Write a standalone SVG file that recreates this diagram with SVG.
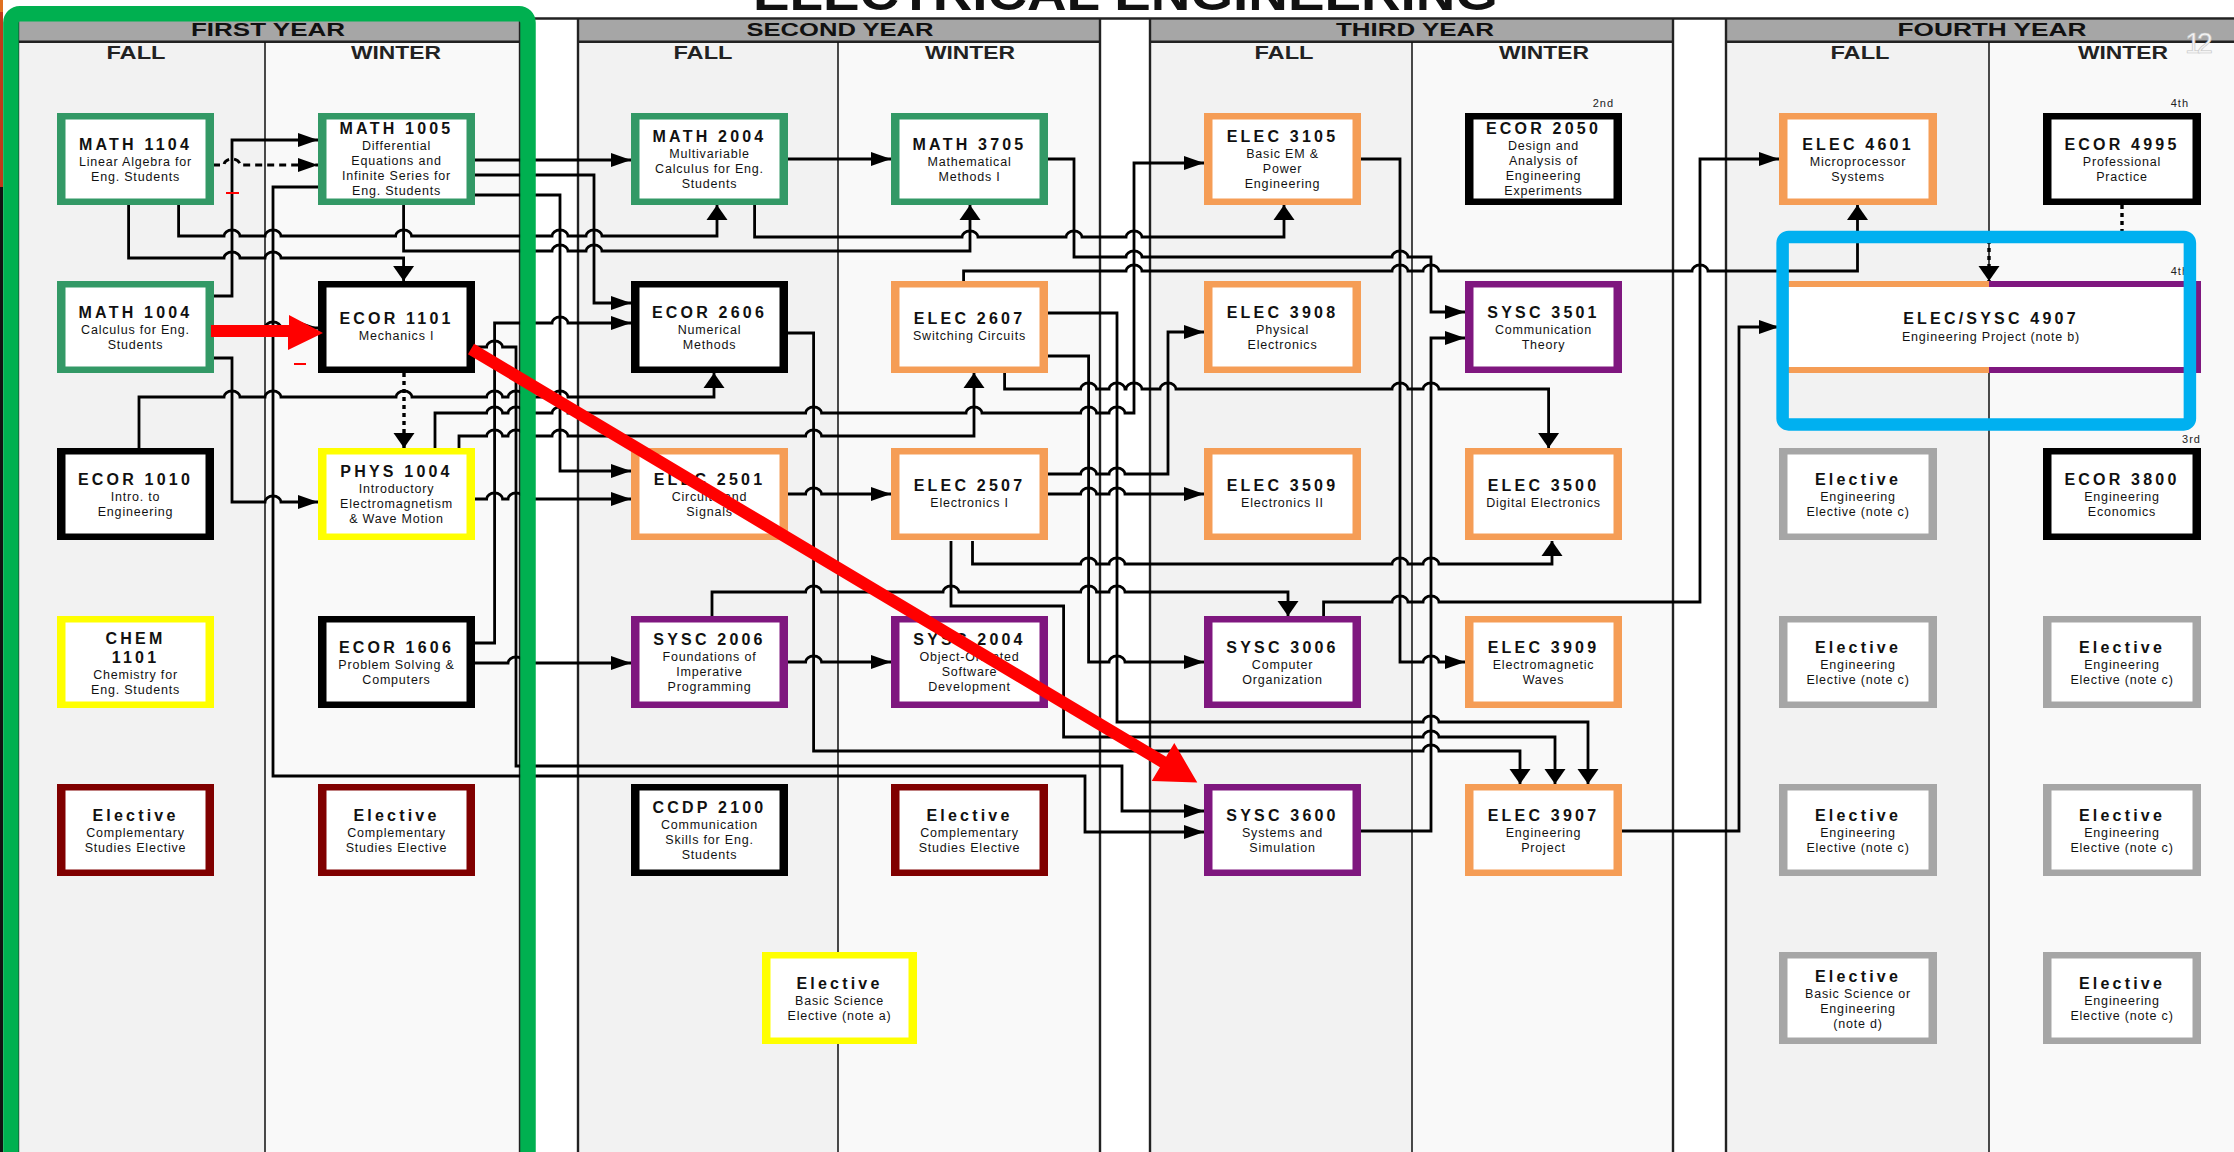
<svg xmlns="http://www.w3.org/2000/svg" width="2234" height="1152" viewBox="0 0 2234 1152">
<defs>
<style>
.fall{fill:#f2f2f2}
.win{fill:#f9f9f9}
.hdr{fill:#a6a6a6}
.edge{stroke:#222;stroke-width:2.4;fill:none}
.div{stroke:#111;stroke-width:1.5;fill:none}
.yt{font-family:"Liberation Sans",Arial,sans-serif;font-weight:bold;font-size:18.5px;fill:#111;text-anchor:middle}
.st{font-family:"Liberation Sans",Arial,sans-serif;font-weight:bold;font-size:17.5px;fill:#222;text-anchor:middle}
.g{fill:#339966}.o{fill:#f59d56}.p{fill:#7f177f}.y{fill:#ffff00}.r{fill:#800000}.k{fill:#000}.e{fill:#a6a6a6}
.in{fill:#fff}
.t{font-family:"Liberation Sans",Arial,sans-serif;font-weight:bold;font-size:16px;letter-spacing:3.2px;text-anchor:middle;fill:#111}
.s{font-family:"Liberation Sans",Arial,sans-serif;font-size:12.5px;letter-spacing:0.8px;text-anchor:middle;fill:#111}
.n{font-family:"Liberation Sans",Arial,sans-serif;font-size:11px;letter-spacing:1px;text-anchor:end;fill:#222}
.w{stroke:#000;stroke-width:2.8;fill:none}
.ar{marker-end:url(#ar)}
.au{marker-end:url(#au)}
.ad{marker-end:url(#ad)}
.dash{stroke-dasharray:7 5}
.dot{stroke-dasharray:4 4;stroke-width:3.4}
.red{fill:#ff0000}
</style>
<marker id="ar" markerUnits="userSpaceOnUse" markerWidth="20" markerHeight="14" refX="20" refY="7" overflow="visible"><path d="M0 0L20 7L0 14z"/></marker>
<marker id="au" markerUnits="userSpaceOnUse" markerWidth="21" markerHeight="15" refX="10.5" refY="0" overflow="visible"><path d="M0 15L10.5 0L21 15z"/></marker>
<marker id="ad" markerUnits="userSpaceOnUse" markerWidth="21" markerHeight="15" refX="10.5" refY="15" overflow="visible"><path d="M0 0L21 0L10.5 15z"/></marker>
</defs>

<rect x="0" y="0" width="2234" height="1152" fill="#fff"/>
<!-- slide edge strip -->
<rect x="0" y="0" width="3" height="1152" fill="#111"/>
<rect x="0" y="0" width="3" height="12" fill="#e07020"/>
<rect x="0" y="12" width="3" height="175" fill="#c0391a"/>

<!-- page title, mostly cut off at the top edge -->
<text x="1125.5" y="10" font-family="'Liberation Sans',Arial,sans-serif" font-weight="bold" font-size="48" text-anchor="middle" textLength="745" lengthAdjust="spacingAndGlyphs" fill="#111">ELECTRICAL ENGINEERING</text>

<!-- year blocks -->
<g id="years">
<rect class="fall" x="18" y="42" width="247" height="1110"/>
<rect class="win" x="265" y="42" width="255" height="1110"/>
<rect class="fall" x="578" y="42" width="260" height="1110"/>
<rect class="win" x="838" y="42" width="262" height="1110"/>
<rect class="fall" x="1150" y="42" width="262" height="1110"/>
<rect class="win" x="1412" y="42" width="261" height="1110"/>
<rect class="fall" x="1726" y="42" width="263" height="1110"/>
<rect class="win" x="1989" y="42" width="245" height="1110"/>
<rect class="hdr" x="18" y="19.5" width="502" height="22"/>
<rect class="hdr" x="578" y="19.5" width="522" height="22"/>
<rect class="hdr" x="1150" y="19.5" width="523" height="22"/>
<rect class="hdr" x="1726" y="19.5" width="508" height="22"/>
<path class="edge" d="M18 18.5H2234M18 41.8H520M578 41.8H1100M1150 41.8H1673M1726 41.8H2234"/>
<path class="edge" d="M18 18.5V1152M520 18.5V1152M578 18.5V1152M1100 18.5V1152M1150 18.5V1152M1673 18.5V1152M1726 18.5V1152"/>
<path class="div" d="M265 42V1152M838 42V1152M1412 42V1152M1989 42V1152"/>
<text class="yt" x="268" y="36" textLength="154" lengthAdjust="spacingAndGlyphs">FIRST YEAR</text>
<text class="yt" x="840" y="36" textLength="187" lengthAdjust="spacingAndGlyphs">SECOND YEAR</text>
<text class="yt" x="1415" y="36" textLength="158" lengthAdjust="spacingAndGlyphs">THIRD YEAR</text>
<text class="yt" x="1992" y="36" textLength="189" lengthAdjust="spacingAndGlyphs">FOURTH YEAR</text>
<text class="st" x="136" y="59" textLength="59" lengthAdjust="spacingAndGlyphs">FALL</text>
<text class="st" x="396" y="59" textLength="90" lengthAdjust="spacingAndGlyphs">WINTER</text>
<text class="st" x="703" y="59" textLength="59" lengthAdjust="spacingAndGlyphs">FALL</text>
<text class="st" x="970" y="59" textLength="90" lengthAdjust="spacingAndGlyphs">WINTER</text>
<text class="st" x="1284" y="59" textLength="59" lengthAdjust="spacingAndGlyphs">FALL</text>
<text class="st" x="1544" y="59" textLength="90" lengthAdjust="spacingAndGlyphs">WINTER</text>
<text class="st" x="1860" y="59" textLength="59" lengthAdjust="spacingAndGlyphs">FALL</text>
<text class="st" x="2123" y="59" textLength="90" lengthAdjust="spacingAndGlyphs">WINTER</text>
</g>

<!-- prerequisite connectors -->
<g id="connectors">
<path class="w au" d="M178.6 205V236H224a8 6 0 0 1 16 0H265a8 6 0 0 1 16 0H395.6a8 6 0 0 1 16 0H552a8 6 0 0 1 16 0H586a8 6 0 0 1 16 0H717V205"/>
<path class="w ad" d="M128.6 205V258H224a8 6 0 0 1 16 0H265a8 6 0 0 1 16 0H403.6V281"/>
<path class="w au" d="M403.6 205V251H552a8 6 0 0 1 16 0H586a8 6 0 0 1 16 0H970V205"/>
<path class="w ar" d="M213 296H232V140H318"/>
<path class="w ar dash" d="M213 165H224a8 6 0 0 1 16 0H318"/>
<path class="w ar" d="M213 328H265a8 6 0 0 1 16 0H318"/>
<path class="w ar" d="M213 358H232V502H265a8 6 0 0 1 16 0H318"/>
<path class="w ad dot" d="M404 373V448"/>
<path class="w ar" d="M318 187H273V776H1085V832H1204"/>
<path class="w ar" d="M474 160H631"/>
<path class="w ar" d="M474 175H594V303H631"/>
<path class="w ar" d="M474 195H560V471H631"/>
<path class="w au" d="M139 448V397H224a8 6 0 0 1 16 0H265a8 6 0 0 1 16 0H396a8 6 0 0 1 16 0H486.6a8 6 0 0 1 16 0H508a8 6 0 0 1 16 0H552a8 6 0 0 1 16 0H714V373"/>
<path class="w ar" d="M435 448V413H486.6a8 6 0 0 1 16 0H508a8 6 0 0 1 16 0H552a8 6 0 0 1 16 0H805.6a8 6 0 0 1 16 0H966a8 6 0 0 1 16 0H1080.6a8 6 0 0 1 16 0H1109a8 6 0 0 1 16 0H1134V163H1204"/>
<path class="w au" d="M459 448V436H486.6a8 6 0 0 1 16 0H508a8 6 0 0 1 16 0H552a8 6 0 0 1 16 0H805.6a8 6 0 0 1 16 0H974V373"/>
<path class="w ar" d="M474 499H486.6a8 6 0 0 1 16 0H508a8 6 0 0 1 16 0H631"/>
<path class="w ar" d="M474 643H494.6V323H552a8 6 0 0 1 16 0H631"/>
<path class="w ar" d="M474 663H508a8 6 0 0 1 16 0H631"/>
<path class="w ar" d="M474 347H486.6a8 6 0 0 1 16 0H516V766H1122V811H1204"/>
<path class="w ar" d="M787 159H891"/>
<path class="w au" d="M754.6 205V237H962a8 6 0 0 1 16 0H1066a8 6 0 0 1 16 0H1126a8 6 0 0 1 16 0H1284V205"/>
<path class="w ar" d="M1048 159H1074V257H1126a8 6 0 0 1 16 0H1392a8 6 0 0 1 16 0H1431V312H1465"/>
<path class="w au" d="M963.6 281V271H1126a8 6 0 0 1 16 0H1392a8 6 0 0 1 16 0H1423a8 6 0 0 1 16 0H1692a8 6 0 0 1 16 0H1857.5V205"/>
<path class="w ad" d="M1004.6 373V389H1080.6a8 6 0 0 1 16 0H1109a8 6 0 0 1 16 0H1126a8 6 0 0 1 16 0H1160a8 6 0 0 1 16 0H1392a8 6 0 0 1 16 0H1423a8 6 0 0 1 16 0H1548.6V448"/>
<path class="w ad" d="M1048 313H1117V722H1423a8 6 0 0 1 16 0H1588V784"/>
<path class="w ar" d="M1048 356H1088.6V662H1109a8 6 0 0 1 16 0H1204"/>
<path class="w ad" d="M787 333H813.6V751H1423a8 6 0 0 1 16 0H1520V784"/>
<path class="w ar" d="M787 494H805.6a8 6 0 0 1 16 0H891"/>
<path class="w ar" d="M1048 474H1080.6a8 6 0 0 1 16 0H1109a8 6 0 0 1 16 0H1168V332H1204"/>
<path class="w ar" d="M1048 494H1080.6a8 6 0 0 1 16 0H1109a8 6 0 0 1 16 0H1204"/>
<path class="w au" d="M972.5 541V564H1080.6a8 6 0 0 1 16 0H1109a8 6 0 0 1 16 0H1392a8 6 0 0 1 16 0H1423a8 6 0 0 1 16 0H1552V541"/>
<path class="w ad" d="M951 541V606H1063.6V737H1423a8 6 0 0 1 16 0H1555V784"/>
<path class="w ad" d="M712 616V592H805.6a8 6 0 0 1 16 0H943a8 6 0 0 1 16 0H1080.6a8 6 0 0 1 16 0H1109a8 6 0 0 1 16 0H1288V616"/>
<path class="w ar" d="M787 662H805.6a8 6 0 0 1 16 0H891"/>
<path class="w ar" d="M1323.6 616V602H1392a8 6 0 0 1 16 0H1423a8 6 0 0 1 16 0H1700V159H1779"/>
<path class="w ar" d="M1361 159H1400V662H1423a8 6 0 0 1 16 0H1465"/>
<path class="w ar" d="M1361 831H1431V338H1465"/>
<path class="w ar" d="M1622 831H1739V327H1779"/>
<path class="w ad dot" d="M2122 205V237H1989V281"/>
</g>

<!-- course nodes -->
<g id="nodes">
<g id="math1104"><rect class="g" x="57" y="113" width="157" height="92"/><rect class="in" x="65.5" y="119.5" width="140" height="79"/>
<text class="t" x="135.5" y="150">MATH 1104</text><text class="s" x="135.5" y="166">Linear Algebra for</text><text class="s" x="135.5" y="181">Eng. Students</text></g>
<g id="math1004"><rect class="g" x="57" y="281" width="157" height="92"/><rect class="in" x="65.5" y="287.5" width="140" height="79"/>
<text class="t" x="135.5" y="318">MATH 1004</text><text class="s" x="135.5" y="334">Calculus for Eng.</text><text class="s" x="135.5" y="349">Students</text></g>
<g id="ecor1010"><rect class="k" x="57" y="448" width="157" height="92"/><rect class="in" x="65.5" y="454.5" width="140" height="79"/>
<text class="t" x="135.5" y="485">ECOR 1010</text><text class="s" x="135.5" y="501">Intro. to</text><text class="s" x="135.5" y="516">Engineering</text></g>
<g id="chem1101"><rect class="y" x="57" y="616" width="157" height="92"/><rect class="in" x="65.5" y="622.5" width="140" height="79"/>
<text class="t" x="135.5" y="644">CHEM</text><text class="t" x="135.5" y="663">1101</text><text class="s" x="135.5" y="679">Chemistry for</text><text class="s" x="135.5" y="694">Eng. Students</text></g>
<g id="cse-y1-fall"><rect class="r" x="57" y="784" width="157" height="92"/><rect class="in" x="65.5" y="790.5" width="140" height="79"/>
<text class="t" x="135.5" y="821">Elective</text><text class="s" x="135.5" y="837">Complementary</text><text class="s" x="135.5" y="852">Studies Elective</text></g>

<g id="math1005"><rect class="g" x="318" y="113" width="157" height="92"/><rect class="in" x="326.5" y="119.5" width="140" height="79"/>
<text class="t" x="396.5" y="134">MATH 1005</text><text class="s" x="396.5" y="150">Differential</text><text class="s" x="396.5" y="165">Equations and</text><text class="s" x="396.5" y="180">Infinite Series for</text><text class="s" x="396.5" y="195">Eng. Students</text></g>
<g id="ecor1101"><rect class="k" x="318" y="281" width="157" height="92"/><rect class="in" x="326.5" y="287.5" width="140" height="79"/>
<text class="t" x="396.5" y="324">ECOR 1101</text><text class="s" x="396.5" y="340">Mechanics I</text></g>
<g id="phys1004"><rect class="y" x="318" y="448" width="157" height="92"/><rect class="in" x="326.5" y="454.5" width="140" height="79"/>
<text class="t" x="396.5" y="477">PHYS 1004</text><text class="s" x="396.5" y="493">Introductory</text><text class="s" x="396.5" y="508">Electromagnetism</text><text class="s" x="396.5" y="523">&amp; Wave Motion</text></g>
<g id="ecor1606"><rect class="k" x="318" y="616" width="157" height="92"/><rect class="in" x="326.5" y="622.5" width="140" height="79"/>
<text class="t" x="396.5" y="653">ECOR 1606</text><text class="s" x="396.5" y="669">Problem Solving &amp;</text><text class="s" x="396.5" y="684">Computers</text></g>
<g id="cse-y1-winter"><rect class="r" x="318" y="784" width="157" height="92"/><rect class="in" x="326.5" y="790.5" width="140" height="79"/>
<text class="t" x="396.5" y="821">Elective</text><text class="s" x="396.5" y="837">Complementary</text><text class="s" x="396.5" y="852">Studies Elective</text></g>

<g id="math2004"><rect class="g" x="631" y="113" width="157" height="92"/><rect class="in" x="639.5" y="119.5" width="140" height="79"/>
<text class="t" x="709.5" y="142">MATH 2004</text><text class="s" x="709.5" y="158">Multivariable</text><text class="s" x="709.5" y="173">Calculus for Eng.</text><text class="s" x="709.5" y="188">Students</text></g>
<g id="ecor2606"><rect class="k" x="631" y="281" width="157" height="92"/><rect class="in" x="639.5" y="287.5" width="140" height="79"/>
<text class="t" x="709.5" y="318">ECOR 2606</text><text class="s" x="709.5" y="334">Numerical</text><text class="s" x="709.5" y="349">Methods</text></g>
<g id="elec2501"><rect class="o" x="631" y="448" width="157" height="92"/><rect class="in" x="639.5" y="454.5" width="140" height="79"/>
<text class="t" x="709.5" y="485">ELEC 2501</text><text class="s" x="709.5" y="501">Circuits and</text><text class="s" x="709.5" y="516">Signals</text></g>
<g id="sysc2006"><rect class="p" x="631" y="616" width="157" height="92"/><rect class="in" x="639.5" y="622.5" width="140" height="79"/>
<text class="t" x="709.5" y="645">SYSC 2006</text><text class="s" x="709.5" y="661">Foundations of</text><text class="s" x="709.5" y="676">Imperative</text><text class="s" x="709.5" y="691">Programming</text></g>
<g id="ccdp2100"><rect class="k" x="631" y="784" width="157" height="92"/><rect class="in" x="639.5" y="790.5" width="140" height="79"/>
<text class="t" x="709.5" y="813">CCDP 2100</text><text class="s" x="709.5" y="829">Communication</text><text class="s" x="709.5" y="844">Skills for Eng.</text><text class="s" x="709.5" y="859">Students</text></g>

<g id="math3705"><rect class="g" x="891" y="113" width="157" height="92"/><rect class="in" x="899.5" y="119.5" width="140" height="79"/>
<text class="t" x="969.5" y="150">MATH 3705</text><text class="s" x="969.5" y="166">Mathematical</text><text class="s" x="969.5" y="181">Methods I</text></g>
<g id="elec2607"><rect class="o" x="891" y="281" width="157" height="92"/><rect class="in" x="899.5" y="287.5" width="140" height="79"/>
<text class="t" x="969.5" y="324">ELEC 2607</text><text class="s" x="969.5" y="340">Switching Circuits</text></g>
<g id="elec2507"><rect class="o" x="891" y="448" width="157" height="92"/><rect class="in" x="899.5" y="454.5" width="140" height="79"/>
<text class="t" x="969.5" y="491">ELEC 2507</text><text class="s" x="969.5" y="507">Electronics I</text></g>
<g id="sysc2004"><rect class="p" x="891" y="616" width="157" height="92"/><rect class="in" x="899.5" y="622.5" width="140" height="79"/>
<text class="t" x="969.5" y="645">SYSC 2004</text><text class="s" x="969.5" y="661">Object-Oriented</text><text class="s" x="969.5" y="676">Software</text><text class="s" x="969.5" y="691">Development</text></g>
<g id="cse-y2-winter"><rect class="r" x="891" y="784" width="157" height="92"/><rect class="in" x="899.5" y="790.5" width="140" height="79"/>
<text class="t" x="969.5" y="821">Elective</text><text class="s" x="969.5" y="837">Complementary</text><text class="s" x="969.5" y="852">Studies Elective</text></g>
<g id="basic-science-elective"><rect class="y" x="762" y="952" width="155" height="92"/><rect class="in" x="770.5" y="958.5" width="138" height="79"/>
<text class="t" x="839.5" y="989">Elective</text><text class="s" x="839.5" y="1005">Basic Science</text><text class="s" x="839.5" y="1020">Elective (note a)</text></g>

<g id="elec3105"><rect class="o" x="1204" y="113" width="157" height="92"/><rect class="in" x="1212.5" y="119.5" width="140" height="79"/>
<text class="t" x="1282.5" y="142">ELEC 3105</text><text class="s" x="1282.5" y="158">Basic EM &amp;</text><text class="s" x="1282.5" y="173">Power</text><text class="s" x="1282.5" y="188">Engineering</text></g>
<g id="elec3908"><rect class="o" x="1204" y="281" width="157" height="92"/><rect class="in" x="1212.5" y="287.5" width="140" height="79"/>
<text class="t" x="1282.5" y="318">ELEC 3908</text><text class="s" x="1282.5" y="334">Physical</text><text class="s" x="1282.5" y="349">Electronics</text></g>
<g id="elec3509"><rect class="o" x="1204" y="448" width="157" height="92"/><rect class="in" x="1212.5" y="454.5" width="140" height="79"/>
<text class="t" x="1282.5" y="491">ELEC 3509</text><text class="s" x="1282.5" y="507">Electronics II</text></g>
<g id="sysc3006"><rect class="p" x="1204" y="616" width="157" height="92"/><rect class="in" x="1212.5" y="622.5" width="140" height="79"/>
<text class="t" x="1282.5" y="653">SYSC 3006</text><text class="s" x="1282.5" y="669">Computer</text><text class="s" x="1282.5" y="684">Organization</text></g>
<g id="sysc3600"><rect class="p" x="1204" y="784" width="157" height="92"/><rect class="in" x="1212.5" y="790.5" width="140" height="79"/>
<text class="t" x="1282.5" y="821">SYSC 3600</text><text class="s" x="1282.5" y="837">Systems and</text><text class="s" x="1282.5" y="852">Simulation</text></g>

<g id="ecor2050"><rect class="k" x="1465" y="113" width="157" height="92"/><rect class="in" x="1473.5" y="119.5" width="140" height="79"/>
<text class="t" x="1543.5" y="134">ECOR 2050</text><text class="s" x="1543.5" y="150">Design and</text><text class="s" x="1543.5" y="165">Analysis of</text><text class="s" x="1543.5" y="180">Engineering</text><text class="s" x="1543.5" y="195">Experiments</text>
<text class="n" x="1614" y="107">2nd</text></g>
<g id="sysc3501"><rect class="p" x="1465" y="281" width="157" height="92"/><rect class="in" x="1473.5" y="287.5" width="140" height="79"/>
<text class="t" x="1543.5" y="318">SYSC 3501</text><text class="s" x="1543.5" y="334">Communication</text><text class="s" x="1543.5" y="349">Theory</text></g>
<g id="elec3500"><rect class="o" x="1465" y="448" width="157" height="92"/><rect class="in" x="1473.5" y="454.5" width="140" height="79"/>
<text class="t" x="1543.5" y="491">ELEC 3500</text><text class="s" x="1543.5" y="507">Digital Electronics</text></g>
<g id="elec3909"><rect class="o" x="1465" y="616" width="157" height="92"/><rect class="in" x="1473.5" y="622.5" width="140" height="79"/>
<text class="t" x="1543.5" y="653">ELEC 3909</text><text class="s" x="1543.5" y="669">Electromagnetic</text><text class="s" x="1543.5" y="684">Waves</text></g>
<g id="elec3907"><rect class="o" x="1465" y="784" width="157" height="92"/><rect class="in" x="1473.5" y="790.5" width="140" height="79"/>
<text class="t" x="1543.5" y="821">ELEC 3907</text><text class="s" x="1543.5" y="837">Engineering</text><text class="s" x="1543.5" y="852">Project</text></g>

<g id="elec4601"><rect class="o" x="1779" y="113" width="158" height="92"/><rect class="in" x="1787.5" y="119.5" width="141" height="79"/>
<text class="t" x="1858" y="150">ELEC 4601</text><text class="s" x="1858" y="166">Microprocessor</text><text class="s" x="1858" y="181">Systems</text></g>
<g id="elec-sysc4907"><rect class="o" x="1779" y="281" width="210" height="92"/><rect class="p" x="1989" y="281" width="212" height="92"/><rect class="in" x="1787.5" y="287" width="405" height="80"/>
<text class="t" x="1991" y="324">ELEC/SYSC 4907</text><text class="s" x="1991" y="341">Engineering Project (note b)</text>
<text class="n" x="2189" y="275">4th</text></g>
<g id="eng-elective-1"><rect class="e" x="1779" y="448" width="158" height="92"/><rect class="in" x="1787.5" y="454.5" width="141" height="79"/>
<text class="t" x="1858" y="485">Elective</text><text class="s" x="1858" y="501">Engineering</text><text class="s" x="1858" y="516">Elective (note c)</text></g>
<g id="eng-elective-2"><rect class="e" x="1779" y="616" width="158" height="92"/><rect class="in" x="1787.5" y="622.5" width="141" height="79"/>
<text class="t" x="1858" y="653">Elective</text><text class="s" x="1858" y="669">Engineering</text><text class="s" x="1858" y="684">Elective (note c)</text></g>
<g id="eng-elective-3"><rect class="e" x="1779" y="784" width="158" height="92"/><rect class="in" x="1787.5" y="790.5" width="141" height="79"/>
<text class="t" x="1858" y="821">Elective</text><text class="s" x="1858" y="837">Engineering</text><text class="s" x="1858" y="852">Elective (note c)</text></g>
<g id="sci-eng-elective"><rect class="e" x="1779" y="952" width="158" height="92"/><rect class="in" x="1787.5" y="958.5" width="141" height="79"/>
<text class="t" x="1858" y="982">Elective</text><text class="s" x="1858" y="998">Basic Science or</text><text class="s" x="1858" y="1013">Engineering</text><text class="s" x="1858" y="1028">(note d)</text></g>

<g id="ecor4995"><rect class="k" x="2043" y="113" width="158" height="92"/><rect class="in" x="2051.5" y="119.5" width="141" height="79"/>
<text class="t" x="2122" y="150">ECOR 4995</text><text class="s" x="2122" y="166">Professional</text><text class="s" x="2122" y="181">Practice</text>
<text class="n" x="2189" y="107">4th</text></g>
<g id="ecor3800"><rect class="k" x="2043" y="448" width="158" height="92"/><rect class="in" x="2051.5" y="454.5" width="141" height="79"/>
<text class="t" x="2122" y="485">ECOR 3800</text><text class="s" x="2122" y="501">Engineering</text><text class="s" x="2122" y="516">Economics</text>
<text class="n" x="2201" y="443">3rd</text></g>
<g id="eng-elective-4"><rect class="e" x="2043" y="616" width="158" height="92"/><rect class="in" x="2051.5" y="622.5" width="141" height="79"/>
<text class="t" x="2122" y="653">Elective</text><text class="s" x="2122" y="669">Engineering</text><text class="s" x="2122" y="684">Elective (note c)</text></g>
<g id="eng-elective-5"><rect class="e" x="2043" y="784" width="158" height="92"/><rect class="in" x="2051.5" y="790.5" width="141" height="79"/>
<text class="t" x="2122" y="821">Elective</text><text class="s" x="2122" y="837">Engineering</text><text class="s" x="2122" y="852">Elective (note c)</text></g>
<g id="eng-elective-6"><rect class="e" x="2043" y="952" width="158" height="92"/><rect class="in" x="2051.5" y="958.5" width="141" height="79"/>
<text class="t" x="2122" y="989">Elective</text><text class="s" x="2122" y="1005">Engineering</text><text class="s" x="2122" y="1020">Elective (note c)</text></g>
</g>

<!-- highlight marks drawn over the chart -->
<g id="highlights">
<rect x="10.9" y="13.7" width="517.1" height="1150" rx="9" fill="none" stroke="#00b050" stroke-width="15.5"/>
<rect x="1782.6" y="237" width="407.3" height="187.4" rx="6" fill="none" stroke="#00b0f0" stroke-width="12.5"/>
<path class="red" d="M211 325H289V315L323 333L288 350V337H211Z"/>
<polygon class="red" points="474.1,343.8 1166.1,756.8 1174.3,743.1 1197.3,782.5 1151.7,780.9 1159.9,767.2 467.9,354.2"/>
<path d="M226 193H239M294 364H306" stroke="#ff0000" stroke-width="2.2"/>
</g>

<text x="2199" y="53" font-family="'Liberation Sans',Arial,sans-serif" font-size="29" text-anchor="middle" textLength="28" fill="#f4f4f4" stroke="#c4c4c4" stroke-width="0.6">12</text>
</svg>
